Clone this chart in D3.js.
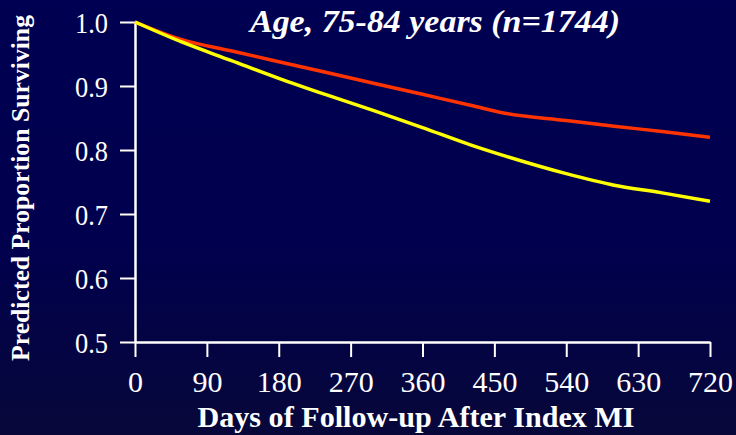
<!DOCTYPE html>
<html>
<head>
<meta charset="utf-8">
<script src="https://cdn.jsdelivr.net/npm/d3@7/dist/d3.min.js"></script>
<style>
  html, body { margin: 0; padding: 0; background: #000050; }
  svg { display: block; }
  text { font-family: "Times New Roman", Times, "Liberation Serif", "Nimbus Roman", "Nimbus Roman No9 L", serif; fill: #ffffff; }
</style>
</head>
<body>
<svg id="chart" width="736" height="435"></svg>
<script>
// Follow-up days at which the predicted survival is given
const days = [0, 60, 120, 180, 240, 300, 360, 420, 465, 540, 600, 660, 720];
// Predicted proportion surviving, two groups
const redSeries    = [1.000, 0.972, 0.955, 0.938, 0.921, 0.904, 0.887, 0.870, 0.857, 0.846, 0.837, 0.829, 0.820];
const yellowSeries = [1.000, 0.968, 0.940, 0.912, 0.886, 0.861, 0.835, 0.808, 0.790, 0.763, 0.745, 0.733, 0.720];
// Axis ticks
const xTicks = [0, 90, 180, 270, 360, 450, 540, 630, 720];
const yTicks = [0.5, 0.6, 0.7, 0.8, 0.9, 1.0];

const titleText = "Age, 75-84 years (n=1744)";
const xTitle = "Days of Follow-up After Index MI";
const yTitle = "Predicted Proportion Surviving";

const serif = '"Times New Roman", Times, "Liberation Serif", "Nimbus Roman", serif';

const svg = d3.select("#chart");
const W = 736, H = 435;

// background
const defs = svg.append("defs");
const grad = defs.append("linearGradient").attr("id", "bg")
  .attr("x1", 0).attr("y1", 0).attr("x2", 0).attr("y2", 1);
grad.append("stop").attr("offset", "0%").attr("stop-color", "#000052");
grad.append("stop").attr("offset", "55%").attr("stop-color", "#00004e");
grad.append("stop").attr("offset", "100%").attr("stop-color", "#07073a");
svg.append("rect").attr("width", W).attr("height", H).attr("fill", "url(#bg)");

const x = d3.scaleLinear().domain([0, 720]).range([135, 710]);
const y = d3.scaleLinear().domain([0.5, 1.0]).range([342, 22]);

// axes
const xAxis = svg.append("g").attr("transform", "translate(0,342)")
  .call(d3.axisBottom(x).tickValues(xTicks).tickSize(15).tickSizeOuter(0)
        .tickFormat(d3.format("d")));
const yAxis = svg.append("g").attr("transform", "translate(135,0)")
  .call(d3.axisLeft(y).tickValues(yTicks).tickSize(15).tickSizeOuter(0).tickPadding(12)
        .tickFormat(d3.format(".1f")));

[xAxis, yAxis].forEach(g => {
  g.attr("font-family", serif);
  g.select(".domain").attr("stroke", "#ffffff").attr("stroke-width", 2.5);
  g.selectAll(".tick line").attr("stroke", "#ffffff").attr("stroke-width", 2);
  g.selectAll(".tick text").attr("fill", "#ffffff")
    .style("font-family", serif).style("font-size", "30px");
});
xAxis.selectAll(".tick text").attr("dy", null).attr("y", 50);
yAxis.selectAll(".tick text").attr("dy", "0.34em")
  .attr("textLength", 33).attr("lengthAdjust", "spacingAndGlyphs");

// curves
const line = d3.line()
  .x((d, i) => x(days[i]))
  .y(d => y(d))
  .curve(d3.curveMonotoneX);

svg.append("path").datum(redSeries)
  .attr("d", line).attr("fill", "none")
  .attr("stroke", "#ff3300").attr("stroke-width", 3.5);
svg.append("path").datum(yellowSeries)
  .attr("d", line).attr("fill", "none")
  .attr("stroke", "#ffff00").attr("stroke-width", 3.5);

// titles
svg.append("text")
  .attr("x", 435).attr("y", 32)
  .attr("text-anchor", "middle")
  .style("font-size", "32px").style("font-weight", "bold").style("font-style", "italic")
  .attr("textLength", 370).attr("lengthAdjust", "spacingAndGlyphs")
  .text(titleText);

svg.append("text")
  .attr("x", 416).attr("y", 427)
  .attr("text-anchor", "middle")
  .style("font-size", "29px").style("font-weight", "bold")
  .attr("textLength", 437).attr("lengthAdjust", "spacingAndGlyphs")
  .text(xTitle);

svg.append("text")
  .attr("transform", "translate(29,188) rotate(-90)")
  .attr("text-anchor", "middle")
  .style("font-size", "25px").style("font-weight", "bold")
  .attr("textLength", 346).attr("lengthAdjust", "spacingAndGlyphs")
  .text(yTitle);
</script>
</body>
</html>
